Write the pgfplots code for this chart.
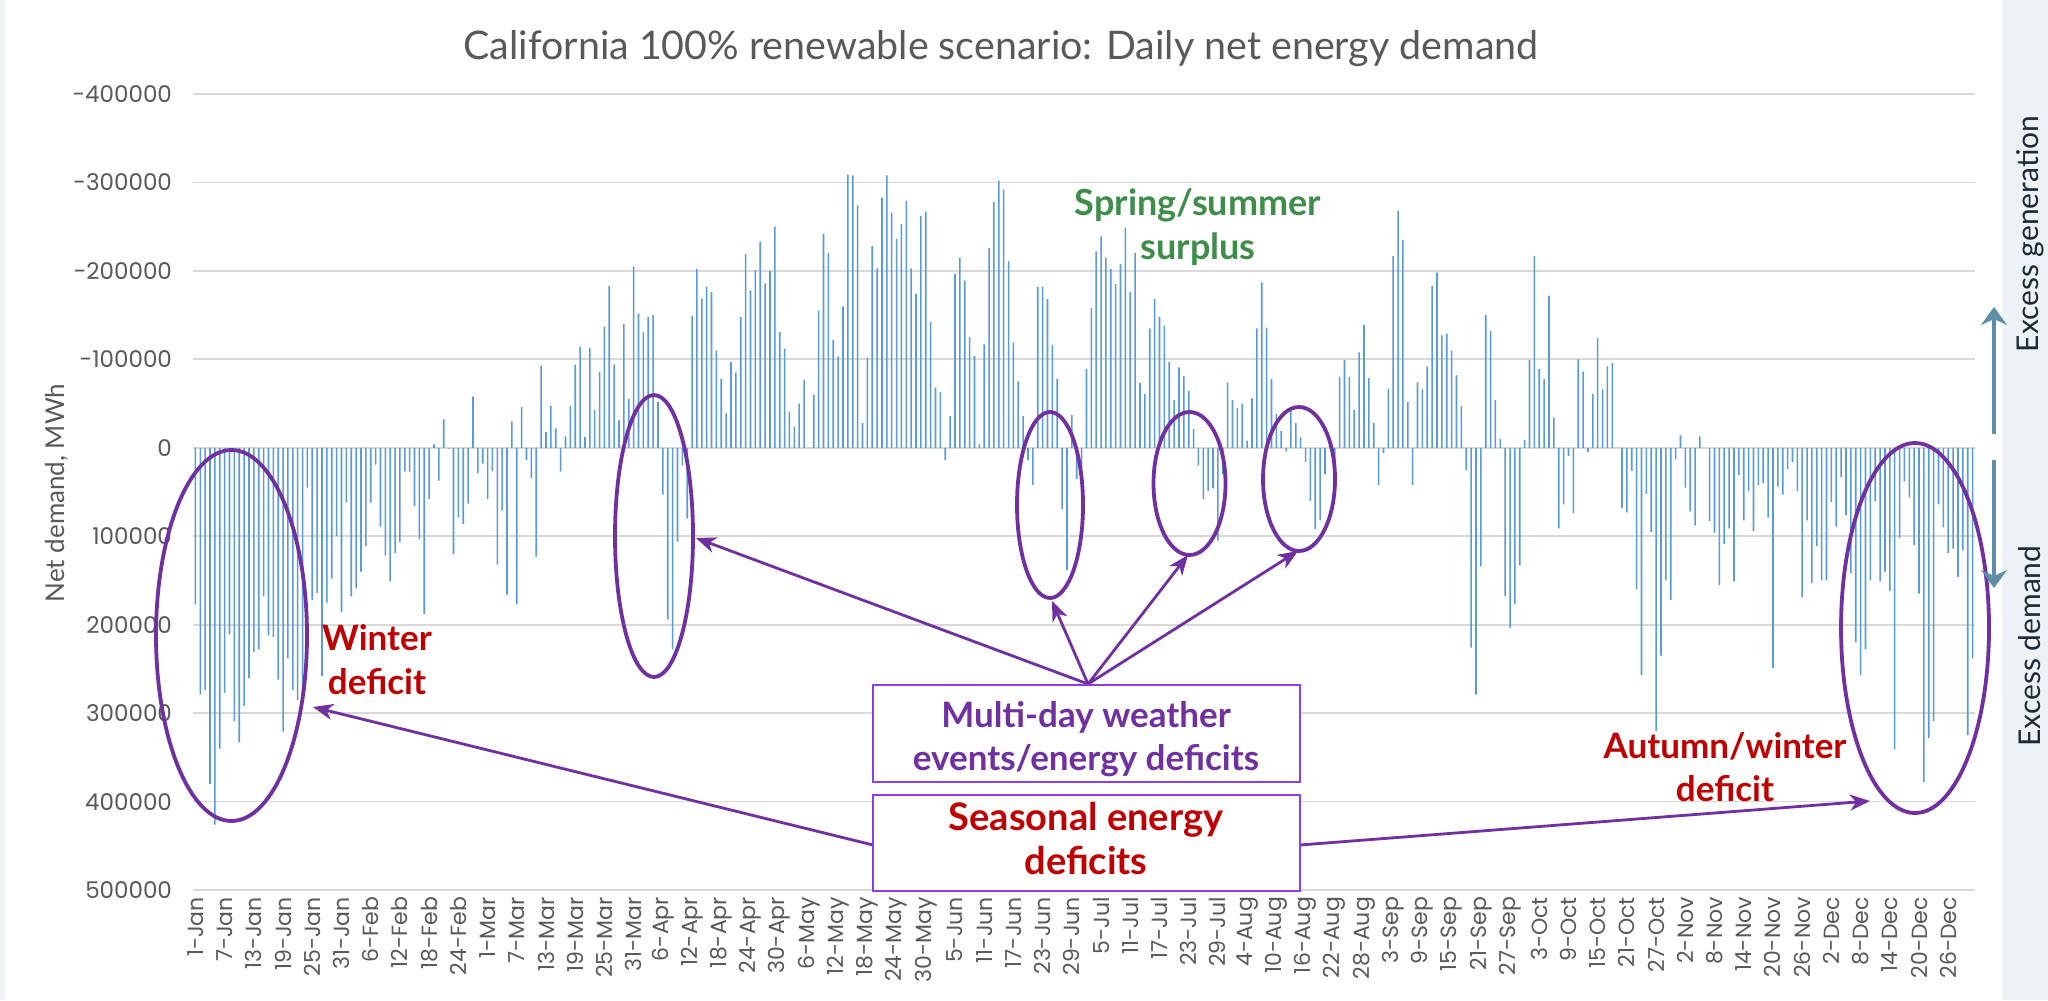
\documentclass[border=0pt]{standalone}
\usepackage{fontspec}
\setmainfont{Lato}
\newfontfamily\tickfont{Poppins}
\usepackage{pgfplots}
\pgfplotsset{compat=1.18}
\usetikzlibrary{arrows.meta}
\definecolor{barblue}{HTML}{5B9BD5}
\definecolor{gridgray}{HTML}{D9D9D9}
\definecolor{tickgray}{HTML}{595959}
\definecolor{purp}{HTML}{7030A0}
\definecolor{boxpurp}{HTML}{8A3FEA}
\definecolor{deepred}{HTML}{C00000}
\definecolor{sgreen}{HTML}{3E8E4A}
\definecolor{steel}{HTML}{5E8EA8}
\definecolor{panel}{HTML}{EDF2F7}
\definecolor{edgegray}{HTML}{F2F4F6}
\definecolor{darkslate}{HTML}{1E2A36}
\begin{document}
\begin{tikzpicture}[x=0.5pt,y=-0.5pt]
\useasboundingbox (0,0) rectangle (2048,1000);
\fill[white] (0,0) rectangle (2048,1000);
\fill[panel] (2002,0) rectangle (2048,1000);
\fill[edgegray] (0,0) rectangle (5,1000);
\begin{axis}[
  at={(96.5pt,-445pt)}, anchor=south west,
  scale only axis, width=891pt, height=398pt,
  xmin=-0.5, xmax=365.5,
  ymin=-400000, ymax=500000, y dir=reverse,
  enlargelimits=false,
  scaled y ticks=false,
  axis line style={draw=none},
  tick style={draw=none},
  ytick={-400000,-300000,-200000,-100000,0,100000,200000,300000,400000,500000},
  yticklabels={-400000,-300000,-200000,-100000,0,100000,200000,300000,400000,500000},
  ymajorgrids=true,
  major grid style={draw=gridgray, line width=0.9pt},
  xtick={0,6,...,360},
  xticklabels={1-Jan,7-Jan,13-Jan,19-Jan,25-Jan,31-Jan,6-Feb,12-Feb,18-Feb,24-Feb,1-Mar,7-Mar,13-Mar,19-Mar,25-Mar,31-Mar,6-Apr,12-Apr,18-Apr,24-Apr,30-Apr,6-May,12-May,18-May,24-May,30-May,5-Jun,11-Jun,17-Jun,23-Jun,29-Jun,5-Jul,11-Jul,17-Jul,23-Jul,29-Jul,4-Aug,10-Aug,16-Aug,22-Aug,28-Aug,3-Sep,9-Sep,15-Sep,21-Sep,27-Sep,3-Oct,9-Oct,15-Oct,21-Oct,27-Oct,2-Nov,8-Nov,14-Nov,20-Nov,26-Nov,2-Dec,8-Dec,14-Dec,20-Dec,26-Dec},
  yticklabel style={font=\tickfont\fontsize{11.5}{14}\selectfont, text=tickgray, xshift=-7pt},
  xticklabel style={font=\tickfont\fontsize{11}{13}\selectfont, text=tickgray, rotate=90, anchor=east},
]
\addplot[ybar, bar width=0.8pt, fill=barblue, draw=none] coordinates {
(0,177000) (1,279000) (2,274000) (3,380000) (4,426000) (5,340000) (6,277000) (7,211000) (8,309000) (9,333000)
(10,292000) (11,260000) (12,231000) (13,228000) (14,168000) (15,212000) (16,214000) (17,262000) (18,321000) (19,238000)
(20,274000) (21,285000) (22,280000) (23,45000) (24,172000) (25,164000) (26,258000) (27,175000) (28,148000) (29,100000)
(30,186000) (31,62000) (32,168000) (33,159000) (34,140000) (35,111000) (36,62000) (37,19000) (38,89000) (39,122000)
(40,151000) (41,119000) (42,107000) (43,27000) (44,27000) (45,66000) (46,103000) (47,188000) (48,58000) (49,-4000)
(50,37000) (51,-32000) (52,1000) (53,120000) (54,79000) (55,86000) (56,63000) (57,-58000) (58,29000) (59,18000)
(60,58000) (61,26000) (62,132000) (63,71000) (64,166000) (65,-30000) (66,177000) (67,-46000) (68,14000) (69,34000)
(70,123000) (71,-93000) (72,-18000) (73,-47000) (74,-22000) (75,27000) (76,-13000) (77,-47000) (78,-94000) (79,-114000)
(80,-12000) (81,-113000) (82,-43000) (83,-86000) (84,-137000) (85,-183000) (86,-94000) (87,-31000) (88,-140000) (89,-55000)
(90,-205000) (91,-152000) (92,-131000) (93,-148000) (94,-150000) (95,-52000) (96,53000) (97,194000) (98,228000) (99,106000)
(100,20000) (101,80000) (102,-149000) (103,-202000) (104,-169000) (105,-182000) (106,-176000) (107,-110000) (108,-78000) (109,-39000)
(110,-97000) (111,-85000) (112,-148000) (113,-219000) (114,-178000) (115,-201000) (116,-233000) (117,-186000) (118,-200000) (119,-250000)
(120,-131000) (121,-112000) (122,-41000) (123,-24000) (124,-50000) (125,-77000) (126,0) (127,-60000) (128,-155000) (129,-242000)
(130,-220000) (131,-122000) (132,-103000) (133,-160000) (134,-309000) (135,-308000) (136,-274000) (137,-28000) (138,-102000) (139,-228000)
(140,-203000) (141,-283000) (142,-308000) (143,-266000) (144,-236000) (145,-253000) (146,-279000) (147,-203000) (148,-174000) (149,-262000)
(150,-267000) (151,-142000) (152,-68000) (153,-63000) (154,14000) (155,-36000) (156,-197000) (157,-215000) (158,-189000) (159,-125000)
(160,-104000) (161,-4000) (162,-117000) (163,-226000) (164,-278000) (165,-302000) (166,-292000) (167,-211000) (168,-119000) (169,-75000)
(170,-36000) (171,14000) (172,42000) (173,-182000) (174,-182000) (175,-168000) (176,-116000) (177,-78000) (178,69000) (179,138000)
(180,-37000) (181,35000) (182,23000) (183,-89000) (184,-158000) (185,-222000) (186,-239000) (187,-215000) (188,-202000) (189,-185000)
(190,-208000) (191,-249000) (192,-176000) (193,-220000) (194,-73000) (195,-61000) (196,-135000) (197,-168000) (198,-148000) (199,-138000)
(200,-97000) (201,-54000) (202,-91000) (203,-81000) (204,-64000) (205,-21000) (206,20000) (207,58000) (208,49000) (209,46000)
(210,105000) (211,30000) (212,-74000) (213,-54000) (214,-45000) (215,-50000) (216,-8000) (217,-56000) (218,-135000) (219,-187000)
(220,-136000) (221,-78000) (222,-38000) (223,-19000) (224,4000) (225,-46000) (226,-28000) (227,-12000) (228,16000) (229,60000)
(230,92000) (231,82000) (232,30000) (233,-10000) (234,20000) (235,-80000) (236,-99000) (237,-80000) (238,-43000) (239,-108000)
(240,-139000) (241,-79000) (242,-28000) (243,42000) (244,6000) (245,-67000) (246,-217000) (247,-268000) (248,-235000) (249,-52000)
(250,42000) (251,-74000) (252,-66000) (253,-92000) (254,-183000) (255,-198000) (256,-127000) (257,-129000) (258,-110000) (259,-82000)
(260,-47000) (261,25000) (262,226000) (263,279000) (264,134000) (265,-150000) (266,-132000) (267,-54000) (268,-10000) (269,168000)
(270,204000) (271,177000) (272,133000) (273,-9000) (274,-99000) (275,-217000) (276,-89000) (277,-78000) (278,-172000) (279,-34000)
(280,91000) (281,64000) (282,9000) (283,74000) (284,-100000) (285,-86000) (286,5000) (287,-61000) (288,-124000) (289,-66000)
(290,-92000) (291,-96000) (292,0) (293,68000) (294,73000) (295,26000) (296,160000) (297,257000) (298,52000) (299,95000)
(300,320000) (301,235000) (302,150000) (303,172000) (304,13000) (305,-14000) (306,45000) (307,72000) (308,88000) (309,-13000)
(310,0) (311,83000) (312,96000) (313,155000) (314,109000) (315,91000) (316,151000) (317,31000) (318,82000) (319,49000)
(320,94000) (321,42000) (322,40000) (323,79000) (324,249000) (325,44000) (326,53000) (327,24000) (328,16000) (329,49000)
(330,169000) (331,82000) (332,153000) (333,111000) (334,150000) (335,150000) (336,61000) (337,89000) (338,33000) (339,76000)
(340,142000) (341,220000) (342,257000) (343,228000) (344,150000) (345,60000) (346,151000) (347,140000) (348,162000) (349,341000)
(350,102000) (351,38000) (352,56000) (353,110000) (354,165000) (355,378000) (356,328000) (357,309000) (358,64000) (359,90000)
(360,119000) (361,114000) (362,146000) (363,116000) (364,325000) (365,238000)
};
\end{axis}
% title and axis label
\node[font=\fontsize{19.7}{24}\selectfont, text=tickgray, anchor=base] at (1001,60) {California 100\% renewable scenario: Daily net energy demand};
\node[rotate=90, font=\fontsize{13}{16}\selectfont, text=tickgray] at (57,493) {Net demand, MWh};
% ellipses
\begin{scope}[purp, line width=1.9pt]
\draw (231.5,635.5) ellipse [x radius=37.75pt, y radius=92.75pt];
\draw (654,536) ellipse [x radius=19.5pt, y radius=70.5pt];
\draw (1050,505) ellipse [x radius=16.5pt, y radius=46.5pt];
\draw (1189.5,483.5) ellipse [x radius=18pt, y radius=35.75pt];
\draw (1299,479) ellipse [x radius=18pt, y radius=36pt];
\draw (1915,628) ellipse [x radius=37pt, y radius=92.5pt];
\end{scope}
% arrows
\begin{scope}[purp, line width=1.4pt, -{Stealth[length=10pt, width=8pt, inset=3pt]}]
\draw (1088,684) -- (696,538);
\draw (1088,684) -- (1052,601);
\draw (1088,684) -- (1188,555);
\draw (1088,684) -- (1298,551);
\draw (873,845) -- (313,707);
\draw (1300,845) -- (1870,801);
\end{scope}
% boxes
\draw[boxpurp, line width=1pt, fill=white] (873,685) rectangle (1300,782);
\draw[boxpurp, line width=1pt, fill=white] (873,795) rectangle (1300,891);
\begin{scope}[font=\bfseries\fontsize{17.5}{21}\selectfont]
\node[text=purp, anchor=base] at (1086,727) {Multi-day weather};
\node[text=purp, anchor=base] at (1086,770) {events/energy deficits};
\node[text=deepred, anchor=base] at (377,650) {Winter};
\node[text=deepred, anchor=base] at (377,694) {deficit};
\node[text=deepred, anchor=base] at (1725,758) {Autumn/winter};
\node[text=deepred, anchor=base] at (1725,801) {deficit};
\end{scope}
\begin{scope}[font=\bfseries\fontsize{19}{22}\selectfont]
\node[text=deepred, anchor=base] at (1086,830) {Seasonal energy};
\node[text=deepred, anchor=base] at (1086,874) {deficits};
\end{scope}
\node[font=\bfseries\fontsize{18}{21}\selectfont, text=sgreen, anchor=base] at (1198,215) {Spring/summer};
\node[font=\bfseries\fontsize{18}{21}\selectfont, text=sgreen, anchor=base] at (1198,259) {surplus};
% right side
\begin{scope}[steel, line width=2pt, -{Stealth[length=9pt, width=13pt, inset=3pt]}]
\draw (1994,434) -- (1994,307);
\draw (1994,460) -- (1994,588);
\end{scope}
\node[rotate=90, font=\fontsize{15}{18}\selectfont, text=darkslate] at (2030,234) {Excess generation};
\node[rotate=90, font=\fontsize{15}{18}\selectfont, text=darkslate] at (2030,646) {Excess demand};
\end{tikzpicture}
\end{document}
